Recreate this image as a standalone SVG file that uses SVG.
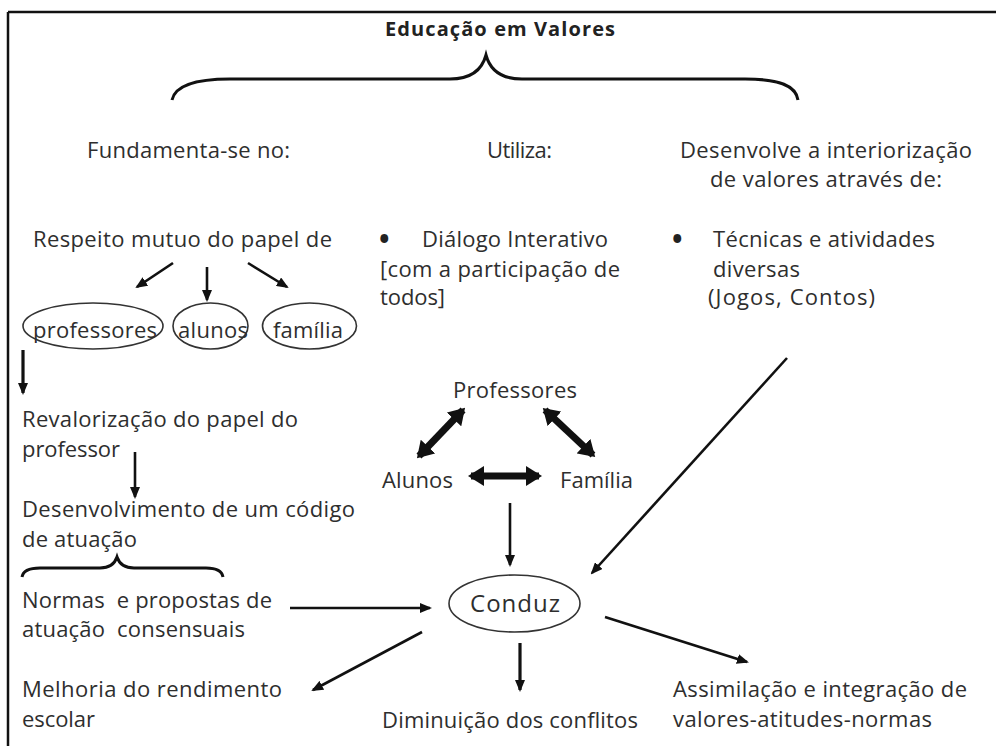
<svg xmlns="http://www.w3.org/2000/svg" width="996" height="746" viewBox="0 0 996 746">
<style>
text{font-family:"Open Sans","Liberation Sans",sans-serif;font-size:22px;fill:#2e2e2e}
.title{font-weight:bold;font-size:20px;fill:#222}
.big{font-size:24px}
.bul{font-size:28px;font-weight:bold;fill:#222}
.ell{fill:none;stroke:#333;stroke-width:1.6}
.ln{fill:none;stroke:#111;stroke-width:2.6}
.th{fill:none;stroke:#111;stroke-width:3.2}
.dbl{fill:none;stroke:#111;stroke-width:7}
.brace{fill:none;stroke:#111;stroke-width:3}
</style>
<defs>
<marker id="ah" viewBox="0 0 12 10" markerWidth="12" markerHeight="10" refX="10" refY="5" orient="auto" markerUnits="userSpaceOnUse"><path d="M0,0 L12,5 L0,10 z" fill="#111"/></marker>
<marker id="dh" viewBox="0 0 16 20" markerWidth="16" markerHeight="20" refX="13" refY="10" orient="auto-start-reverse" markerUnits="userSpaceOnUse"><path d="M0,0 L16,10 L0,20 z" fill="#111"/></marker>
</defs>
<rect width="996" height="746" fill="#fff"/>
<g id="frame">
<path d="M8,12 H996 M8,12 V746" fill="none" stroke="#111" stroke-width="2.5"/>
</g>
<g id="title">
<text class="title" x="385" y="36" textLength="230">Educação em Valores</text>
<path class="brace" d="M172,100 C175,86 195,79 230,79 L450,79 C470,79 482,70 486,55 C490,70 502,79 522,79 L745,79 C780,79 796,86 798,100"/>
</g>
<g id="fundamenta"><text x="87" y="158" textLength="203">Fundamenta-se no:</text></g>
<g id="utiliza"><text x="487" y="158" textLength="65">Utiliza:</text></g>
<g id="desenvolve">
<text x="680" y="158" textLength="292">Desenvolve a interiorização</text>
<text x="710" y="187" textLength="232">de valores através de:</text>
</g>
<g id="respeito"><text x="33" y="247" textLength="299">Respeito mutuo do papel de</text></g>
<g id="dialogo">
<text class="bul" x="379" y="249">•</text>
<text x="422" y="247" textLength="186">Diálogo Interativo</text>
<text x="380" y="277" textLength="240">[com a participação de</text>
<text x="380" y="305" textLength="65">todos]</text>
</g>
<g id="tecnicas">
<text class="bul" x="672" y="249">•</text>
<text x="713" y="247" textLength="222">Técnicas e atividades</text>
<text x="713" y="277" textLength="87">diversas</text>
<text x="708" y="305" textLength="167">(Jogos, Contos)</text>
</g>
<g id="professores">
<ellipse class="ell" cx="93" cy="326" rx="70" ry="23"/>
<text x="33" y="338" textLength="124">professores</text>
</g>
<g id="alunos">
<ellipse class="ell" cx="210.5" cy="326" rx="37.5" ry="23"/>
<text x="178" y="338" textLength="70">alunos</text>
</g>
<g id="familia">
<ellipse class="ell" cx="309.5" cy="326" rx="47" ry="23"/>
<text x="273" y="338" textLength="70">família</text>
</g>
<g id="revalorizacao">
<text x="22" y="427" textLength="276">Revalorização do papel do</text>
<text x="22" y="457" textLength="98">professor</text>
</g>
<g id="codigo">
<text x="22" y="517" textLength="333">Desenvolvimento de um código</text>
<text x="22" y="547" textLength="115">de atuação</text>
<path class="brace" stroke-width="2.6" d="M22,577 C23,571 30,568 40,568 L100,568 C110,568 115,563 117,557 C119,563 124,568 134,568 L206,568 C216,568 222,571 223,577"/>
</g>
<g id="normas">
<text xml:space="preserve" x="22" y="608" textLength="250">Normas  e propostas de</text>
<text xml:space="preserve" x="22" y="637" textLength="223">atuação  consensuais</text>
</g>
<g id="melhoria">
<text x="22" y="697" textLength="260">Melhoria do rendimento</text>
<text x="22" y="727" textLength="73">escolar</text>
</g>
<g id="tri-professores"><text x="453" y="398" textLength="124">Professores</text></g>
<g id="tri-alunos"><text x="382" y="488" textLength="71">Alunos</text></g>
<g id="tri-familia"><text x="560" y="488" textLength="73">Família</text></g>
<g id="conduz">
<ellipse class="ell" cx="514.5" cy="603.5" rx="65.5" ry="28.5"/>
<text class="big" x="470" y="612" textLength="90">Conduz</text>
</g>
<g id="diminuicao"><text x="382" y="728" textLength="256">Diminuição dos conflitos</text></g>
<g id="assimilacao">
<text x="673" y="697" textLength="294">Assimilação e integração de</text>
<text x="673" y="727" textLength="259">valores-atitudes-normas</text>
</g>
<g id="connectors">
<line class="ln" x1="173" y1="263" x2="137" y2="287" marker-end="url(#ah)"/>
<line class="ln" x1="207" y1="267" x2="207" y2="300" marker-end="url(#ah)"/>
<line class="ln" x1="248" y1="263" x2="287" y2="287" marker-end="url(#ah)"/>
<line class="th" x1="23" y1="350" x2="23" y2="393" marker-end="url(#ah)"/>
<line class="ln" x1="135" y1="452" x2="135" y2="497" marker-end="url(#ah)"/>
<line class="ln" x1="290" y1="608" x2="430" y2="608" marker-end="url(#ah)"/>
<line class="ln" x1="422" y1="632" x2="313" y2="690" marker-end="url(#ah)"/>
<line class="ln" x1="510" y1="503" x2="510" y2="565" marker-end="url(#ah)"/>
<line class="ln" x1="787" y1="358" x2="592" y2="573" marker-end="url(#ah)"/>
<line class="th" x1="520" y1="643" x2="520" y2="690" marker-end="url(#ah)"/>
<line class="ln" x1="605" y1="617" x2="747" y2="662" marker-end="url(#ah)"/>
<line class="dbl" x1="463" y1="410" x2="419" y2="456" marker-start="url(#dh)" marker-end="url(#dh)"/>
<line class="dbl" x1="545" y1="410" x2="593" y2="455" marker-start="url(#dh)" marker-end="url(#dh)"/>
<line class="dbl" x1="471" y1="476" x2="539" y2="476" marker-start="url(#dh)" marker-end="url(#dh)"/>
</g>
</svg>
